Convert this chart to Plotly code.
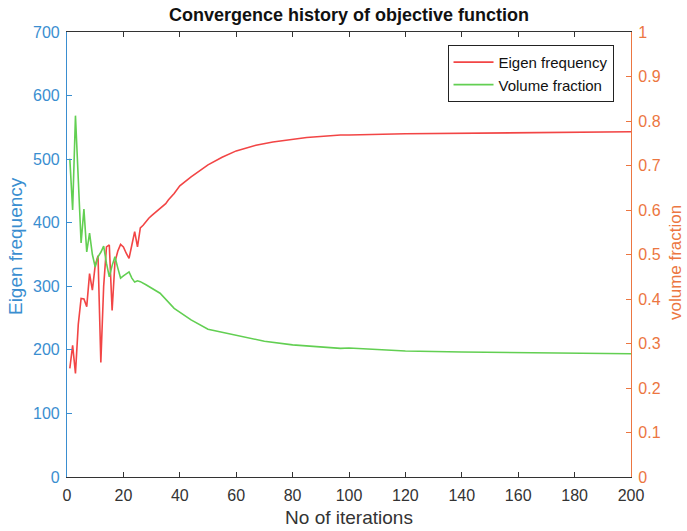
import plotly.graph_objects as go

# Eigen frequency (left axis) sampled at iterations
freq_iter = [1, 2, 3, 4, 5, 6, 7, 8, 9, 10, 11, 12, 13, 14, 15, 16, 17, 18, 19, 20,
             21, 22, 23, 24, 25, 26, 27, 28, 29, 30, 33, 35, 36, 38, 40, 44, 50, 55,
             60, 67, 73, 80, 85, 97, 100, 120, 140, 160, 180, 200]
freq_vals = [171, 207, 163, 240, 281, 280, 268, 320, 294, 333, 348, 180, 300, 362, 365,
             262, 338, 355, 366, 362, 352, 344, 365, 386, 362, 392, 396, 402, 407, 411,
             422, 430, 436, 446, 458, 472, 491, 503, 513, 522, 527, 531, 534, 538, 538,
             540, 541, 542, 542, 543]

# Volume fraction (right axis) sampled at iterations
vol_iter = [1, 2, 3, 4, 5, 6, 7, 8, 9, 10, 11, 12, 13, 14, 15, 16, 17, 18, 19, 20,
            21, 22, 23, 24, 25, 26, 28, 30, 33, 38, 44, 50, 60, 70, 80, 90, 97, 100,
            120, 140, 160, 180, 200]
vol_vals = [0.715, 0.600, 0.812, 0.650, 0.526, 0.602, 0.506, 0.548, 0.500, 0.472, 0.495,
            0.505, 0.519, 0.480, 0.450, 0.475, 0.495, 0.470, 0.447, 0.452, 0.456, 0.461,
            0.447, 0.438, 0.441, 0.439, 0.432, 0.425, 0.413, 0.379, 0.353, 0.332, 0.318,
            0.305, 0.297, 0.292, 0.289, 0.290, 0.283, 0.281, 0.280, 0.279, 0.277]

x_ticks = [0, 20, 40, 60, 80, 100, 120, 140, 160, 180, 200]
left_ticks = [0, 100, 200, 300, 400, 500, 600, 700]
right_ticks = [0, 0.1, 0.2, 0.3, 0.4, 0.5, 0.6, 0.7, 0.8, 0.9, 1]

LEFT_C = "#3A8ED0"
RIGHT_C = "#EC7641"
DARK = "#333333"
FONT = "Liberation Sans, Arial, sans-serif"

fig = go.Figure()
fig.add_trace(go.Scatter(x=freq_iter, y=freq_vals, mode="lines", name="Eigen frequency",
                         line=dict(color="#F24545", width=1.6)))
fig.add_trace(go.Scatter(x=vol_iter, y=vol_vals, mode="lines", name="Volume fraction",
                         yaxis="y2", line=dict(color="#62CF52", width=1.6)))

fig.update_layout(
    width=687, height=531,
    margin=dict(l=67, r=56, t=32, b=54),
    paper_bgcolor="white", plot_bgcolor="white",
    font=dict(family=FONT, size=14, color=DARK),
    title=dict(text="<b>Convergence history of objective function</b>",
               x=0.5, xref="paper", xanchor="center", y=0.984, yanchor="top",
               font=dict(size=18, color="#111111")),
    xaxis=dict(range=[0, 200], tickvals=x_ticks, ticks="inside", ticklen=5,
               tickcolor=DARK, showline=True, linecolor=DARK, linewidth=1,
               mirror="ticks", showgrid=False, zeroline=False, automargin=False,
               ticklabelstandoff=4,
               tickfont=dict(size=16, color=DARK),
               title=dict(text="No of iterations", font=dict(size=19, color=DARK), standoff=7)),
    yaxis=dict(range=[0, 700], tickvals=left_ticks, ticks="inside", ticklen=5,
               tickcolor=LEFT_C, showline=True, linecolor=LEFT_C, linewidth=1.2,
               showgrid=False, zeroline=False, automargin=False,
               ticklabelstandoff=3,
               tickfont=dict(size=16, color=LEFT_C)),
    yaxis2=dict(range=[0, 1], tickvals=right_ticks, ticktext=[str(v) for v in right_ticks],
                overlaying="y", side="right", ticks="inside", ticklen=5,
                tickcolor=RIGHT_C, showline=True, linecolor=RIGHT_C, linewidth=1.2,
                showgrid=False, zeroline=False, automargin=False,
                ticklabelstandoff=3,
                tickfont=dict(size=16, color=RIGHT_C)),
    legend=dict(x=0.969, y=0.971, xanchor="right", yanchor="top",
                bgcolor="white", bordercolor="#222222", borderwidth=1,
                font=dict(size=15, color="#111111"), tracegroupgap=0,
                itemwidth=40),
    showlegend=True,
    annotations=[
        dict(text="Eigen frequency", xref="paper", yref="paper", x=-0.0922, y=0.519,
             xanchor="center", yanchor="middle", textangle=-90, showarrow=False,
             font=dict(size=19, color=LEFT_C)),
        dict(text="volume fraction", xref="paper", yref="paper", x=1.0780, y=0.483,
             xanchor="center", yanchor="middle", textangle=-90, showarrow=False,
             font=dict(size=17, color=RIGHT_C)),
    ],
)

fig.write_html("out.html", config={"displayModeBar": False},
               post_script="document.body.style.margin='0px';")
